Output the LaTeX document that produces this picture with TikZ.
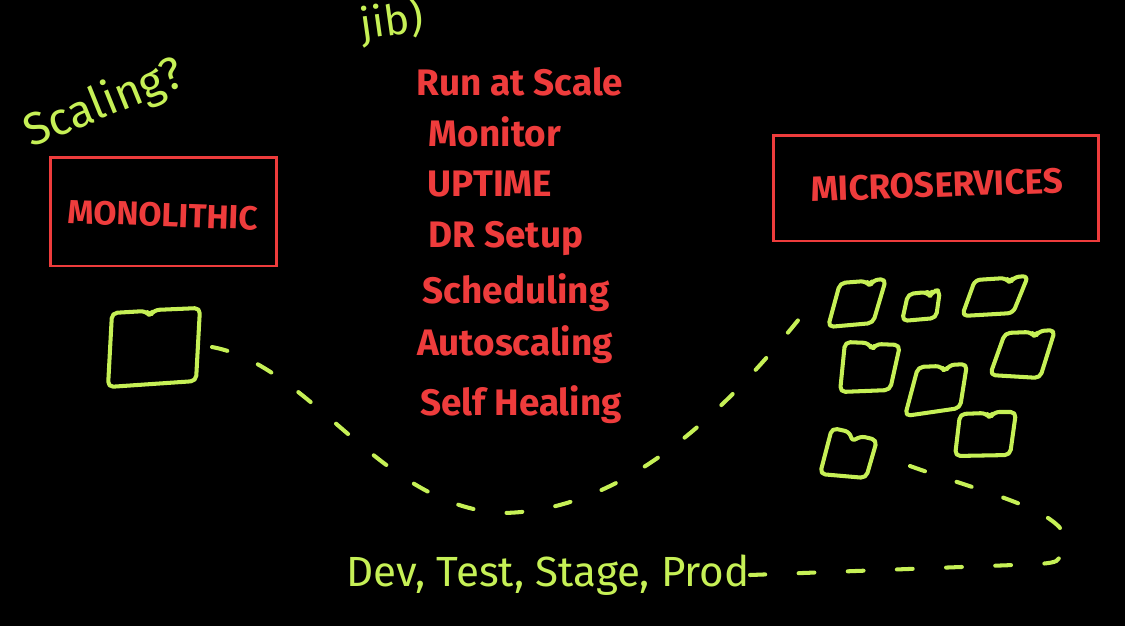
\documentclass[tikz,border=0pt]{standalone}
\usepackage{fontspec}
\setmainfont{Fira Sans}
\definecolor{chalkgreen}{RGB}{198,240,86}
\definecolor{chalkred}{RGB}{238,60,60}
\begin{document}
\begin{tikzpicture}[x=0.02cm,y=-0.02cm,
  redtxt/.style={text=chalkred, font=\bfseries\fontsize{21}{23}\selectfont, inner sep=0pt},
  greentxt/.style={text=chalkgreen, font=\fontsize{24}{26}\selectfont, inner sep=0pt},
  redbox/.style={draw=chalkred, line width=1.7pt, inner sep=0pt},
  sq/.style={draw=chalkgreen, line width=2.3pt, rounded corners=3pt, line join=round},
  dashline/.style={draw=chalkgreen, line width=2.3pt, dash pattern=on 9pt off 19pt, line cap=round}]
\useasboundingbox[fill=black] (0,0) rectangle (1125,626);

% top green notes
\node[greentxt, rotate=8] (jib) at (392,22) {jib)};
\node[greentxt, font=\fontsize{26}{28}\selectfont, rotate=22] (scaling) at (104,104) {Scaling?};

% red boxes
\node[redbox, minimum width=4.54cm, minimum height=2.18cm] (monobox) at (163.5,211.5) {};
\node[redtxt, font=\bfseries\fontsize{19}{21}\selectfont, rotate=-2] (monotxt) at (163,215) {MONOLITHIC};
\node[redbox, minimum width=6.52cm, minimum height=2.12cm] (msbox) at (936,188) {};
\node[redtxt, font=\bfseries\fontsize{20}{22}\selectfont, rotate=2] (mstxt) at (937,185) {MICROSERVICES};

% red list
\node[redtxt] (l1) at (520,82) {Run at Scale};
\node[redtxt] (l2) at (495,132) {Monitor};
\node[redtxt] (l3) at (490,184) {UPTIME};
\node[redtxt] (l4) at (506,238) {DR Setup};
\node[redtxt] (l5) at (516,293) {Scheduling};
\node[redtxt] (l6) at (515,345) {Autoscaling};
\node[redtxt] (l7) at (521,405) {Self Healing};

% monolith square
\draw[sq] (112,313) -- (146,311) -- (150,316) -- (154,310) -- (200,308) -- (196,381) -- (108,387) -- cycle;
\coordinate (monoE) at (212,347);

% microservice squares
\draw[sq] (840,283) -- (866,281) -- (870,286) -- (873,280) -- (886,279) -- (873,323) -- (828,327) -- cycle;
\draw[sq] (908,294) -- (927,292) -- (930,296) -- (933,291) -- (940,290) -- (936,318) -- (902,321) -- cycle;
\draw[sq] (975,280) -- (1006,278) -- (1010,283) -- (1014,277) -- (1028,276) -- (1013,313) -- (962,316) -- cycle;
\draw[sq] (845,342) -- (869,343) -- (872,350) -- (876,344) -- (900,345) -- (890,390) -- (840,392) -- cycle;
\draw[sq] (918,367) -- (941,366) -- (945,372) -- (949,365) -- (967,364) -- (960,408) -- (905,416) -- cycle;
\draw[sq] (1005,333) -- (1031,332) -- (1035,337) -- (1039,331) -- (1055,330) -- (1040,378) -- (990,375) -- cycle;
\draw[sq] (832,428) -- (850,432) -- (852,442) -- (860,436) -- (877,440) -- (866,478) -- (820,474) -- cycle;
\draw[sq] (960,414) -- (986,413) -- (990,418) -- (994,412) -- (1016,412) -- (1010,455) -- (955,456) -- cycle;
\coordinate (msW) at (808,308);
\coordinate (msS) at (910,466);

% bottom text
\node[greentxt, anchor=east] (envs) at (750,575) {Dev, Test, Stage, Prod};

% dashed connectors
\draw[dashline] (monoE) .. controls (310,365) and (380,505) .. (500,513)
  .. controls (640,513) and (750,380) .. (msW);
\draw[dashline] (msS) .. controls (990,495) and (1085,515) .. (1062,552)
  .. controls (1058,562) .. (1040,564) -- (envs.east);
\end{tikzpicture}
\end{document}
